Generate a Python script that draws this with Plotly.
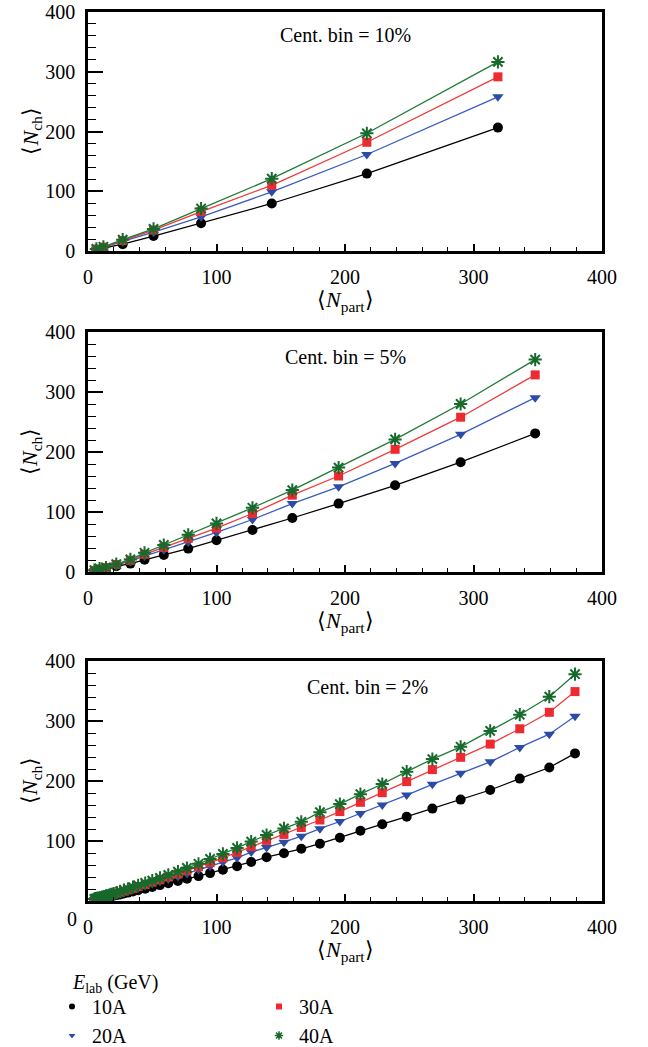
import plotly.graph_objects as go

# ---------------- data ----------------
energies = ["10A", "20A", "30A", "40A"]

# Panel 1: centrality bin = 10%
x10 = [6.5, 12, 27, 51, 88, 143, 217, 319]
p10_10A = [2.5, 5, 11.5, 25, 46.5, 79.5, 129.5, 206.5]
p10_20A = [3, 6, 16, 31.5, 57, 99, 161.5, 258]
p10_30A = [3, 6.5, 17.5, 35, 66, 110, 182, 291.5]
p10_40A = [3.5, 7, 19, 37, 71, 121, 197, 316.5]

# Panel 2: centrality bin = 5%
x5 = [5, 9, 14, 22, 33, 44, 59, 78, 100, 128, 159, 195, 239, 290, 348]
p5_10A = [2, 4, 6, 9.5, 14, 20.5, 28.5, 39, 53, 70, 90, 114, 144.5, 183, 231]
p5_20A = [2.5, 5, 7, 11.5, 18, 26.5, 37, 50, 66, 87.5, 114, 142, 181, 229.5, 290.5]
p5_30A = [2.5, 5, 7.5, 12.5, 19.5, 29.5, 41, 56, 73, 97.5, 128, 160, 204.5, 258, 328.5]
p5_40A = [3, 5.5, 7.5, 13, 21, 32, 45, 62, 81, 107, 136.5, 174, 221, 280, 354]

# Panel 3: centrality bin = 2%
x2 = [5, 6, 7, 8, 9.5, 11, 12.5, 14, 16, 18, 20, 22.5, 25, 28, 31, 35, 39,
      44.5, 50, 56, 62.5, 70, 77, 86, 95, 105, 116, 127, 139, 152.5, 166,
      180.5, 196, 212, 229, 248, 268, 290, 313, 336, 359, 379]
p2_10A = [2, 2.5, 3, 3.5, 4, 4.5, 5.5, 6, 7, 8, 9, 10, 11, 12.5, 14, 16, 18,
          20.5, 23.5, 26.5, 29.5, 33.5, 37, 41.5, 46.5, 52, 58, 65, 73, 79.5, 87,
          95.5, 105.5, 117, 128, 140.5, 154, 169, 185, 204, 222.5, 246]
p2_20A = [2.5, 3, 3.5, 4, 5, 5.5, 6.5, 7, 8.5, 9.5, 10.5, 12, 13.5, 15, 17, 19.5, 22,
          25.5, 29, 32.5, 36.5, 41, 46, 52, 58, 65, 72, 81.5, 89, 98, 108,
          120.5, 132.5, 146, 160, 176.5, 194.5, 213, 232, 256, 278, 308]
p2_30A = [3, 3.5, 4, 4.5, 5, 6, 7, 7.5, 9, 10, 11.5, 13, 14.5, 16.5, 18.5, 21, 24,
          27.5, 31.5, 35.5, 40, 45, 50.5, 57, 64, 72, 81, 91, 101, 111, 122.5,
          135, 149, 164.5, 180.5, 199, 219, 239.5, 261.5, 287, 314.5, 349]
p2_40A = [3.5, 4, 4.5, 5, 5.5, 6.5, 7.5, 8.5, 9.5, 11, 12.5, 14, 16, 18, 20, 23, 26,
          30, 34, 38.5, 43.5, 49, 55, 62, 70, 78.5, 88.5, 99, 110, 121, 132,
          148, 161.5, 178, 195, 215.5, 236.5, 257, 283.5, 310.5, 340.5, 378]

y_ticks = [0, 100, 200, 300, 400]
y_ticktext_top = ["0", "100", "200", "300", "400"]
y_ticktext_bottom = ["", "100", "200", "300", "400"]
x_ticks = [0, 100, 200, 300, 400]
panel_titles = ["Cent. bin = 10%", "Cent. bin = 5%", "Cent. bin = 2%"]

# ---------------- styling ----------------
FONT = "Liberation Serif"
W, H = 648, 1047
marker_colors = ["#000000", "#2a4ca6", "#ec2a30", "#17692c"]
line_colors = ["#000000", "#3a5cc0", "#f03a3a", "#1f7a36"]
symbols = ["circle", "triangle-down", "square", "asterisk-open"]
sizes = [10, 10, 9, 11]

panels = [
    (x10, [p10_10A, p10_20A, p10_30A, p10_40A]),
    (x5, [p5_10A, p5_20A, p5_30A, p5_40A]),
    (x2, [p2_10A, p2_20A, p2_30A, p2_40A]),
]

# screen-pixel geometry of the plot boxes
xl, xr = 88, 602
boxes = [(12, 251), (332, 572), (661, 901)]


def px(v):
    return v / W


def py(v):
    return 1 - v / H


fig = go.Figure()

for pi, (xs, series) in enumerate(panels):
    ax = "" if pi == 0 else str(pi + 1)
    for si, ys in enumerate(series):
        mk = dict(symbol=symbols[si], size=sizes[si], color=marker_colors[si])
        if symbols[si] == "asterisk-open":
            mk["line"] = dict(color=marker_colors[si], width=2)
        else:
            mk["line"] = dict(width=0)
        fig.add_trace(go.Scatter(
            x=xs, y=ys, mode="lines+markers",
            line=dict(color=line_colors[si], width=1.3),
            marker=mk, showlegend=False,
            xaxis="x" + ax, yaxis="y" + ax,
        ))

# legend-only entries
legend_of = ["legend", "legend", "legend2", "legend2"]
for si, name in enumerate(energies):
    mk = dict(symbol=symbols[si], size=6, color=marker_colors[si])
    if symbols[si] == "asterisk-open":
        mk["line"] = dict(color=marker_colors[si], width=1.5)
        mk["size"] = 7
    else:
        mk["line"] = dict(width=0)
    fig.add_trace(go.Scatter(
        x=[None], y=[None], mode="markers", marker=mk, name=name,
        showlegend=True, legend=legend_of[si],
    ))

axis_common = dict(
    showline=True, linecolor="black", linewidth=2.5, mirror=True,
    showgrid=False, zeroline=False, ticks="inside", tickcolor="black",
    tickwidth=1.5, tickfont=dict(family=FONT, size=20, color="black"),
    range=[0, 400], ticklabelstandoff=6, automargin=False,
    ticklabeloverflow="allow",
)

layout = dict(
    width=W, height=H,
    margin=dict(l=0, r=0, t=0, b=0, autoexpand=False),
    paper_bgcolor="white", plot_bgcolor="white",
    font=dict(family=FONT, size=19, color="black"),
)

annotations = []
for pi, (top, bot) in enumerate(boxes):
    ax = "" if pi == 0 else str(pi + 1)
    layout["xaxis" + ax] = dict(
        axis_common, domain=[px(xl), px(xr)], anchor="y" + ax,
        tickvals=x_ticks, ticklen=7,
        minor=dict(ticks="inside", dtick=20, ticklen=4, tickcolor="black", tickwidth=1.2),
    )
    layout["yaxis" + ax] = dict(
        axis_common, domain=[py(bot), py(top)], anchor="x" + ax,
        tickvals=y_ticks,
        ticktext=y_ticktext_bottom if pi == 2 else y_ticktext_top,
        ticklen=15,
        minor=dict(ticks="inside", dtick=20, ticklen=8, tickcolor="black", tickwidth=1.2),
    )
    # y-axis title
    annotations.append(dict(
        text="⟨<i>N</i><sub>ch</sub>⟩", textangle=-90, x=px(31), y=py((top + bot) / 2),
        xref="paper", yref="paper", showarrow=False, font=dict(size=22),
        xanchor="center", yanchor="middle",
    ))
    # x-axis title
    annotations.append(dict(
        text="⟨<i>N</i><sub>part</sub>⟩", x=px((xl + xr) / 2), y=py(bot + 50),
        xref="paper", yref="paper", showarrow=False, font=dict(size=22),
        xanchor="center", yanchor="middle",
    ))

# panel labels
label_pos = [(345, 35), (345, 357), (367, 687)]
for (lx, ly), t in zip(label_pos, panel_titles):
    annotations.append(dict(
        text=t, x=px(lx), y=py(ly), xref="paper", yref="paper", showarrow=False,
        font=dict(size=20), xanchor="center", yanchor="middle",
    ))

# detached zero label of bottom panel
annotations.append(dict(
    text="0", x=px(79), y=py(919), xref="paper", yref="paper", showarrow=False,
    font=dict(size=20), xanchor="right", yanchor="middle",
))

# legend heading
annotations.append(dict(
    text="<i>E</i><sub>lab</sub> (GeV)", x=px(70), y=py(983), xref="paper", yref="paper",
    showarrow=False, font=dict(size=20), xanchor="left", yanchor="middle",
))

layout["annotations"] = annotations
layout["legend"] = dict(
    x=px(52), y=py(987), xanchor="left", yanchor="top", orientation="v",
    bgcolor="rgba(0,0,0,0)", font=dict(family=FONT, size=20), tracegroupgap=0,
)
layout["legend2"] = dict(
    x=px(259), y=py(987), xanchor="left", yanchor="top", orientation="v",
    bgcolor="rgba(0,0,0,0)", font=dict(family=FONT, size=20), tracegroupgap=0,
)

fig.update_layout(**layout)
# remove the browser's default 8px page margin so the figure fills the window
fig.write_html(
    "out.html",
    config={"displayModeBar": False},
    post_script="document.body.style.margin='0px';",
)
